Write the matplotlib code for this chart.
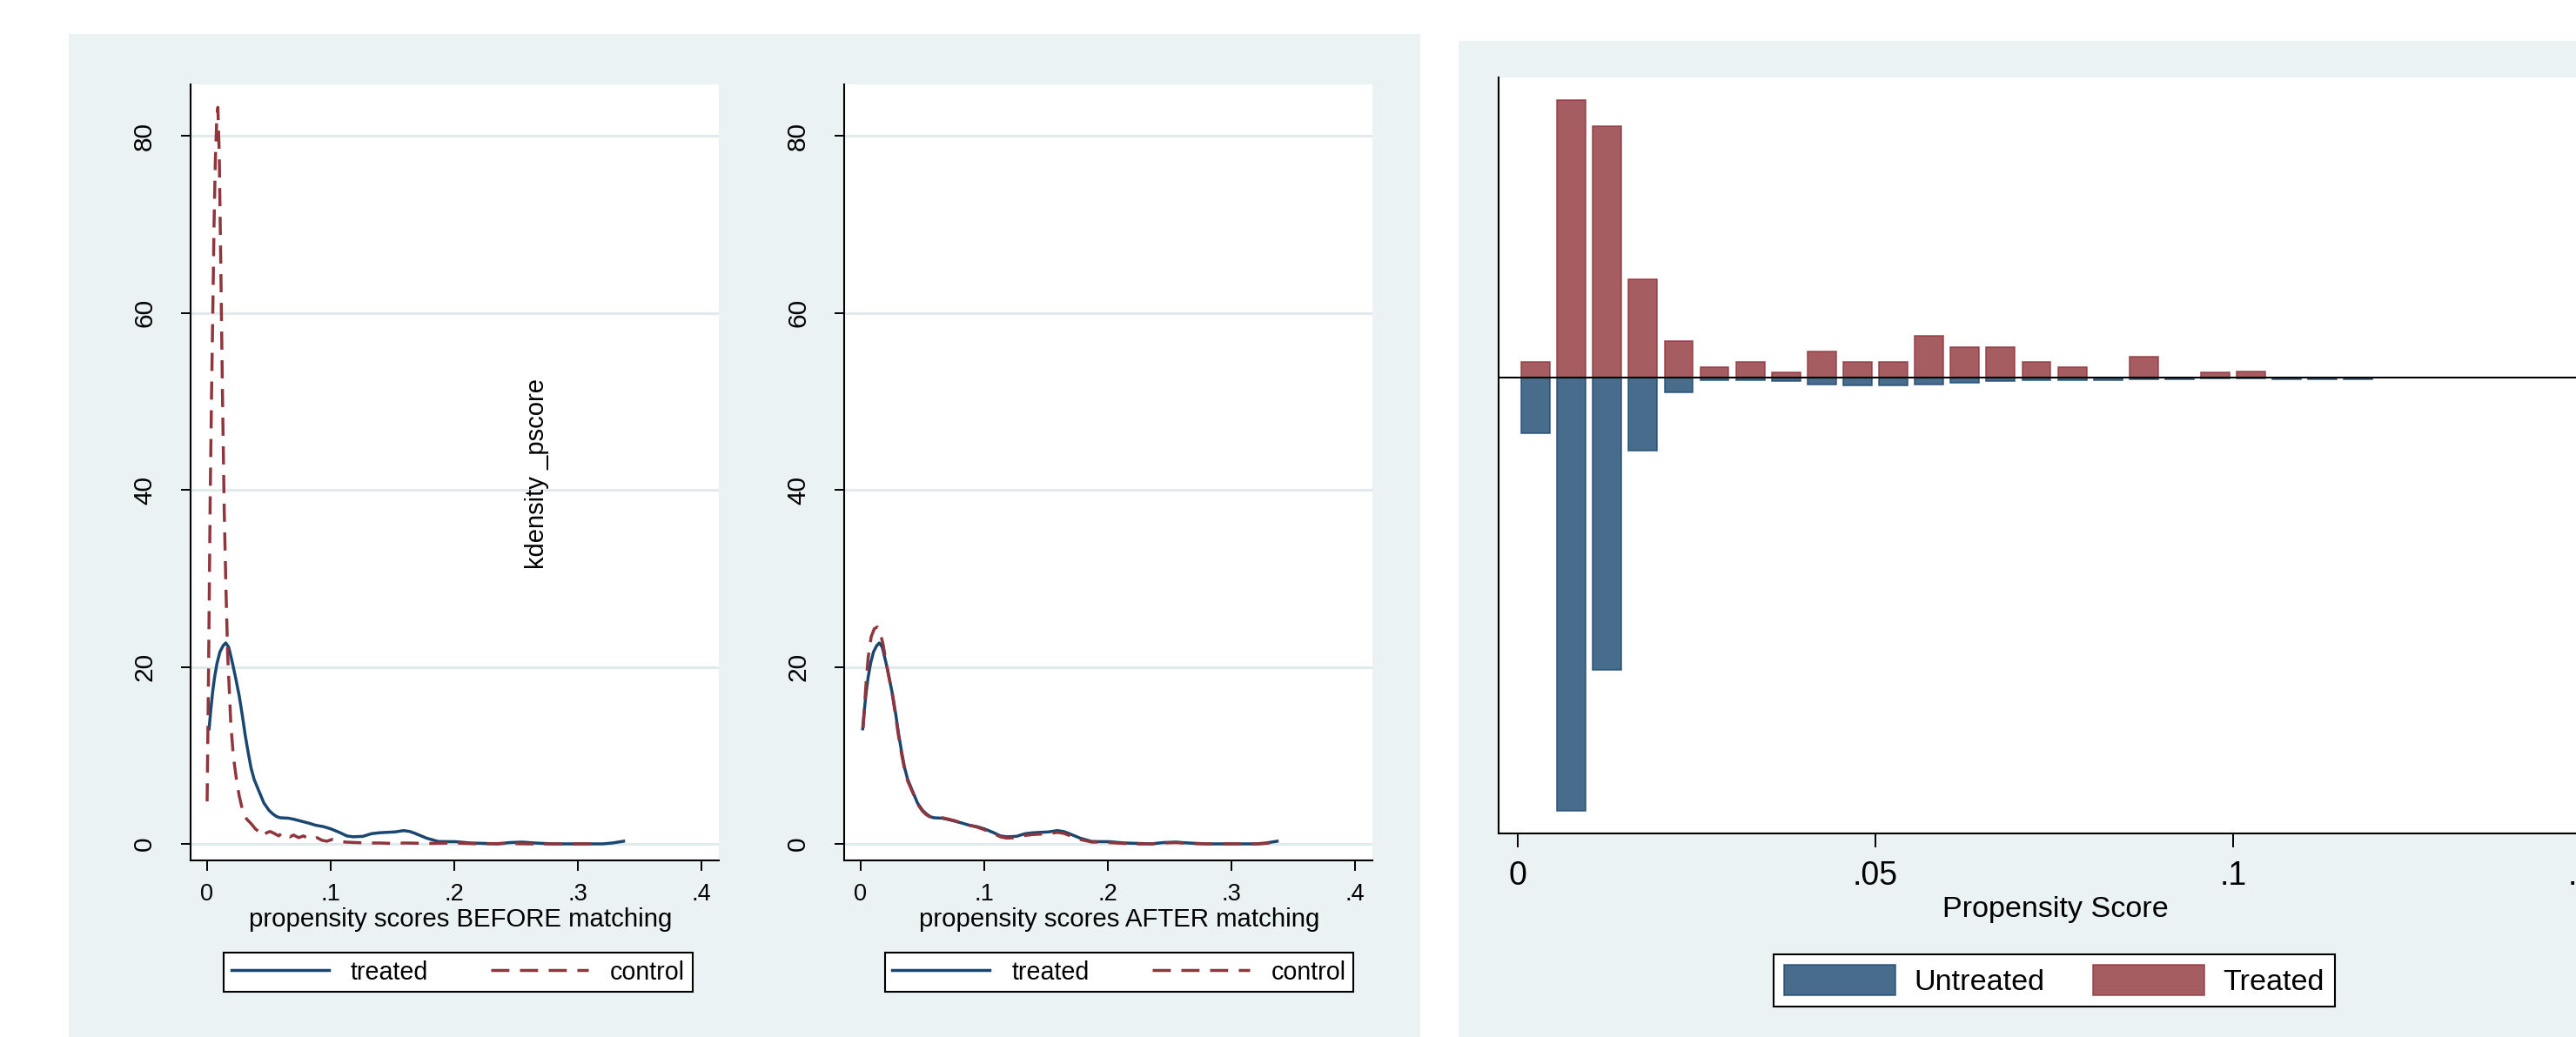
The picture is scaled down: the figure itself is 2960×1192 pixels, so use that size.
import matplotlib
matplotlib.use("Agg")
import matplotlib.pyplot as plt
from matplotlib import font_manager
from matplotlib.patches import Rectangle

W, H = 2960, 1192
BG, GRID = "#eaf2f3", "#e1eaed"
NAVY, MAROON = "#1a476f", "#90353b"

# kernel densities of the propensity score
TR_X = [0.0016, 0.003, 0.0045, 0.006, 0.008, 0.0104, 0.013, 0.0151, 0.0175, 0.0204, 0.023,
        0.026, 0.0285, 0.0308, 0.033, 0.0355, 0.038, 0.0418, 0.046, 0.05, 0.053, 0.056, 0.059,
        0.066, 0.071, 0.0765, 0.082, 0.088, 0.094, 0.1, 0.107, 0.113, 0.118, 0.126, 0.133,
        0.139, 0.145, 0.152, 0.159, 0.164, 0.168, 0.1775, 0.187, 0.195, 0.201, 0.213, 0.225,
        0.235, 0.245, 0.255, 0.265, 0.28, 0.30, 0.32, 0.328, 0.337]
TR_Y = [13.0, 15.2, 17.2, 18.8, 20.4, 21.7, 22.4, 22.7, 22.2, 20.5, 18.8,
        16.7, 14.5, 12.3, 10.5, 8.6, 7.3, 6.0, 4.6, 3.8, 3.4, 3.1, 2.95,
        2.9, 2.75, 2.55, 2.35, 2.1, 1.95, 1.7, 1.3, 0.9, 0.8, 0.85, 1.15,
        1.25, 1.3, 1.35, 1.5, 1.4, 1.2, 0.65, 0.27, 0.25, 0.25, 0.1, 0.05,
        0.0, 0.15, 0.2, 0.1, 0.0, 0.0, 0.0, 0.1, 0.3]

CB_X = [0.0, 0.0012, 0.0025, 0.0036, 0.0047, 0.0056, 0.0066, 0.0077, 0.0087, 0.0098, 0.011,
        0.0125, 0.0138, 0.0152, 0.0166, 0.0192, 0.0213, 0.024, 0.026, 0.029, 0.032, 0.0355,
        0.039, 0.0416, 0.044, 0.046, 0.049, 0.051, 0.054, 0.058, 0.061, 0.064, 0.067, 0.070,
        0.074, 0.078, 0.082, 0.085, 0.089, 0.093, 0.097, 0.101, 0.106, 0.112, 0.12, 0.13,
        0.14, 0.15, 0.16, 0.18, 0.2, 0.22, 0.24, 0.26, 0.28, 0.3, 0.318]
CB_Y = [4.8, 20.0, 39.3, 51.0, 61.2, 70.0, 76.9, 81.5, 83.2, 78.0, 66.0,
        50.0, 38.0, 29.0, 21.5, 13.5, 9.8, 7.0, 5.4, 3.6, 2.8, 2.3,
        1.7, 1.4, 1.6, 1.1, 1.3, 1.4, 1.2, 0.9, 1.3, 1.1, 0.8, 1.0,
        0.7, 0.9, 0.6, 0.5, 0.7, 0.4, 0.3, 0.5, 0.3, 0.2, 0.15, 0.1,
        0.1, 0.05, 0.1, 0.05, 0.1, 0.0, 0.05, 0.0, 0.0, 0.0, 0.0]

CA_X = [0.002, 0.004, 0.006, 0.0085, 0.011, 0.0134, 0.0155, 0.018, 0.0204, 0.023, 0.026,
        0.0285, 0.0308, 0.033, 0.0355, 0.038, 0.0418, 0.046, 0.05, 0.053, 0.056, 0.059,
        0.066, 0.071, 0.0765, 0.082, 0.088, 0.094, 0.1, 0.107, 0.113, 0.118, 0.126, 0.133,
        0.139, 0.145, 0.152, 0.159, 0.164, 0.168, 0.1775, 0.187, 0.195, 0.201, 0.213, 0.225,
        0.235, 0.245, 0.255, 0.265, 0.28, 0.30, 0.32, 0.328, 0.337]
CA_Y = [13.1, 17.5, 21.0, 23.4, 24.3, 24.5, 24.0, 22.6, 20.7, 18.7, 16.5,
        14.2, 12.0, 10.2, 8.4, 7.1, 5.9, 4.5, 3.7, 3.3, 3.05, 3.0,
        2.95, 2.8, 2.6, 2.35, 2.1, 1.9, 1.6, 1.2, 0.8, 0.65, 0.7, 0.95,
        1.05, 1.1, 1.15, 1.3, 1.2, 1.0, 0.5, 0.2, 0.2, 0.15, 0.05, 0.0,
        0.0, 0.1, 0.15, 0.05, 0.0, 0.0, 0.0, 0.05, 0.25]

KD_XT = [0, 0.1, 0.2, 0.3, 0.4]
KD_XL = ["0", ".1", ".2", ".3", ".4"]
KD_YT = [0, 20, 40, 60, 80]

# mirrored histogram: bin centres, treated above zero, untreated below (no y scale shown)
BIN_MID = [0.0025, 0.0075, 0.0125, 0.0175, 0.0225, 0.0275, 0.0325, 0.0375, 0.0425, 0.0475,
           0.0525, 0.0575, 0.0625, 0.0675, 0.0725, 0.0775, 0.0825, 0.0875, 0.0925, 0.0975,
           0.1025, 0.1075, 0.1125, 0.1175]
TREATED = [1.8, 31.9, 28.9, 11.3, 4.2, 1.2, 1.8, 0.6, 3.0, 1.8, 1.8, 4.8,
           3.5, 3.5, 1.8, 1.2, 0.0, 2.4, 0.0, 0.6, 0.7, 0.0, 0.0, 0.0]
UNTREATED = [6.4, 49.8, 33.6, 8.4, 1.7, 0.35, 0.35, 0.4, 0.8, 0.9, 0.9, 0.8,
             0.6, 0.4, 0.35, 0.3, 0.3, 0.2, 0.2, 0.1, 0.1, 0.25, 0.25, 0.25]
HI_XT = [0, 0.05, 0.1, 0.15]
HI_XL = ["0", ".05", ".1", ".15"]

plt.rcParams.update({"font.family": ["Liberation Sans", "DejaVu Sans"]})
have = {f.name for f in font_manager.fontManager.ttflist}
NARROW = "Liberation Sans Narrow" in have

def cond(em_px):
    # Stata set these labels in a narrow face; em_px = size a regular face needs for the same width
    if NARROW:
        return {"family": "Liberation Sans Narrow", "size": em_px / 0.82 * 0.72}
    return {"family": "Liberation Sans", "size": em_px * 0.72}

def box(l, t, r, b):
    return [l / W, 1 - b / H, (r - l) / W, (b - t) / H]

fig = plt.figure(figsize=(W / 100, H / 100), dpi=100, facecolor="white")
fig.patches.append(Rectangle((79 / W, 0), 1553 / W, 1153 / H, transform=fig.transFigure,
                             fc=BG, ec="none", zorder=-5))
fig.patches.append(Rectangle((1676 / W, 0), 1400 / W, 1145 / H, transform=fig.transFigure,
                             fc=BG, ec="none", zorder=-5))

def kd_axes(rect, ctl_x, ctl_y, xlab, lab_x, leg_cx):
    ax = fig.add_axes(rect)
    ax.set_xlim(-0.01338, 0.41408); ax.set_ylim(-1.867, 85.8)
    for s in ("top", "right"):
        ax.spines[s].set_visible(False)
    for s in ("left", "bottom"):
        ax.spines[s].set_linewidth(1.5)
    ax.set_yticks(KD_YT); ax.set_xticks(KD_XT); ax.set_xticklabels(KD_XL)
    ax.grid(axis="y", color=GRID, lw=2.2, zorder=0)
    ax.set_axisbelow(True)
    ax.tick_params(axis="y", length=8, width=1.4, pad=20, labelsize=21.5)
    ax.tick_params(axis="x", length=8.6, width=1.4, pad=10, labelsize=19.5)
    for t in ax.get_yticklabels():
        t.set_rotation(90); t.set_va("center")
    h1, = ax.plot(TR_X, TR_Y, color=NAVY, lw=2.5, zorder=3)
    h2, = ax.plot(ctl_x, ctl_y, color=MAROON, lw=2.5, dashes=(6, 3.5), zorder=3)
    f = cond(29.4)
    ax.set_xlabel(xlab, fontfamily=f["family"], fontsize=f["size"])
    ax.xaxis.set_label_coords(lab_x, -0.0759)
    ax.xaxis.label.set_va("center")
    f = cond(28.6)
    px = f["size"] / 0.72
    leg = ax.legend([h1, h2], ["treated", "control"], ncol=2, loc="center",
                    bbox_to_anchor=(leg_cx / W, 1 - 1117.5 / H), bbox_transform=fig.transFigure,
                    prop=f, handlelength=112 / px, handletextpad=25 / px, columnspacing=72 / px,
                    borderpad=0.3, fancybox=False, edgecolor="black", framealpha=1)
    leg.get_frame().set_linewidth(1.5)
    return ax

ax1 = kd_axes(box(219, 97, 826, 989), CB_X, CB_Y,
              "propensity scores BEFORE matching", 0.5115, 526.5)
ax1.text(0.655, 0.498, "kdensity _pscore", transform=ax1.transAxes, rotation=90,
         ha="center", va="center", fontsize=21)
ax2 = kd_axes(box(970, 97, 1577, 989), CA_X, CA_Y,
              "propensity scores AFTER matching", 0.5206, 1286)

# mirrored histogram, right
ax3 = fig.add_axes(box(1722, 89, 3100, 958))
ax3.set_xlim(-0.002676, 0.16496); ax3.set_ylim(-52.43, 34.47)
for s in ("top", "right"):
    ax3.spines[s].set_visible(False)
for s in ("left", "bottom"):
    ax3.spines[s].set_linewidth(1.5)
ax3.set_yticks([])
ax3.set_xticks(HI_XT); ax3.set_xticklabels(HI_XL)
ax3.tick_params(axis="x", length=11.5, width=1.4, pad=11, labelsize=27)
b_u = ax3.bar(BIN_MID, [-v for v in UNTREATED], width=0.004, color=NAVY, alpha=0.8,
              edgecolor=NAVY, lw=1.2, zorder=2)
b_t = ax3.bar(BIN_MID, TREATED, width=0.004, color=MAROON, alpha=0.8,
              edgecolor=MAROON, lw=1.2, zorder=2)
ax3.axhline(0, color="black", lw=1.5, zorder=3)
f = cond(34.1)
ax3.set_xlabel("Propensity Score", fontfamily=f["family"], fontsize=f["size"])
ax3.xaxis.set_label_coords((2362 - 1722) / 1378, -0.1008)
ax3.xaxis.label.set_va("center")
f = cond(34.2)
px = f["size"] / 0.72
leg = ax3.legend([b_u, b_t], ["Untreated", "Treated"], ncol=2, loc="center",
                 bbox_to_anchor=(2360.5 / W, 1 - 1127 / H), bbox_transform=fig.transFigure,
                 prop=f, handlelength=128 / px, handleheight=41 / px, handletextpad=21 / px,
                 columnspacing=56 / px, borderpad=0.36, fancybox=False, edgecolor="black",
                 framealpha=1)
leg.get_frame().set_linewidth(1.5)

fig.savefig("out.png", dpi=100)
print("narrow font:", NARROW)
